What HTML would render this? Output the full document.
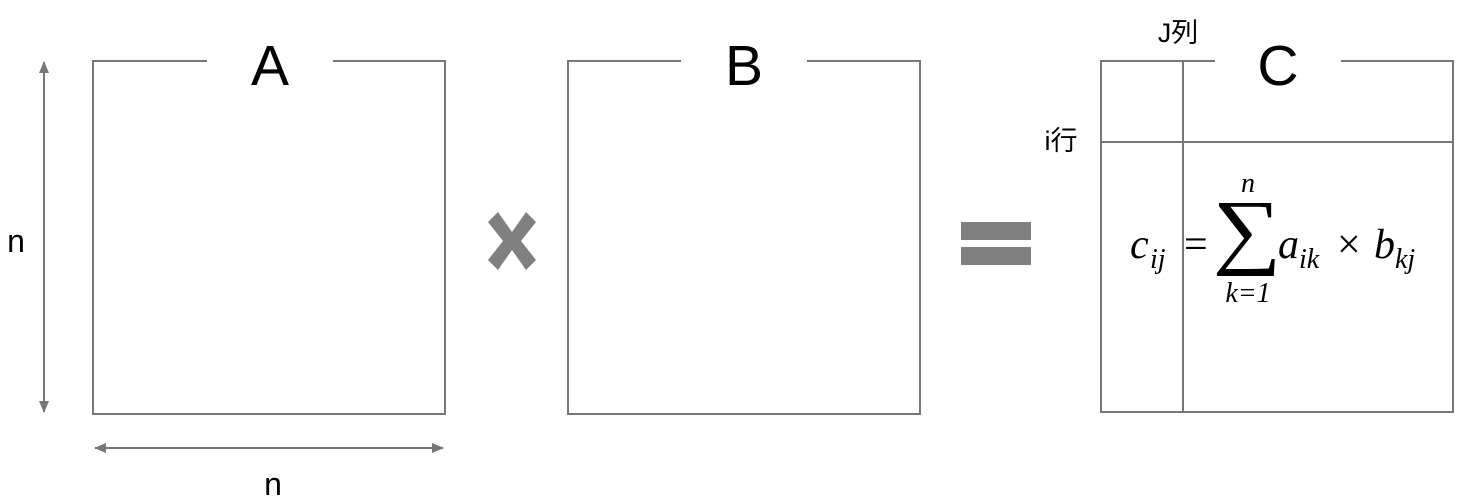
<!DOCTYPE html>
<html><head><meta charset="utf-8"><style>
html,body{margin:0;padding:0;background:#fff;}
svg{display:block;}
.t{font-family:"Liberation Sans","Noto Sans CJK JP",sans-serif;fill:#000;}
.m{font-family:"Liberation Serif","DejaVu Serif",serif;font-style:italic;fill:#000;}
.r{font-family:"Liberation Serif","DejaVu Serif",serif;fill:#000;}
</style></head><body>
<svg width="1470" height="503" viewBox="0 0 1470 503">
<defs>
<marker id="ah" markerWidth="12" markerHeight="10" refX="11" refY="5" orient="auto-start-reverse" markerUnits="userSpaceOnUse">
<path d="M0,0 L12,5 L0,10 Z" fill="#777"/>
</marker>
</defs>
<g stroke="#777" stroke-width="2" fill="none">
<path d="M207,61 H93 V414 H445 V61 H333"/>
<path d="M681,61 H568 V414 H920 V61 H807"/>
<path d="M1215,61 H1101 V412 H1453 V61 H1341"/>
<line x1="1183" y1="61" x2="1183" y2="412"/>
<line x1="1101" y1="142" x2="1453" y2="142"/>
<line x1="44" y1="62" x2="44" y2="412" marker-start="url(#ah)" marker-end="url(#ah)"/>
<line x1="95" y1="448" x2="443" y2="448" marker-start="url(#ah)" marker-end="url(#ah)"/>
</g>
<text class="t" x="270" y="85" font-size="57" text-anchor="middle">A</text>
<text class="t" x="744" y="85" font-size="57" text-anchor="middle">B</text>
<text class="t" x="1278" y="85" font-size="57" text-anchor="middle">C</text>
<text class="t" x="16" y="252" font-size="32" text-anchor="middle">n</text>
<text class="t" x="273" y="495" font-size="32" text-anchor="middle">n</text>
<text class="t" x="1178" y="42" font-size="27" text-anchor="middle">J列</text>
<text class="t" x="1061" y="150" font-size="27" text-anchor="middle">i行</text>
<g fill="#808080">
<polygon points="488,222 498,212 512,232 526,212 536,222 521,241 536,260 526,270 512,250 498,270 488,260 503,241"/>
</g>
<rect x="961" y="222" width="70" height="18" fill="#808080"/>
<rect x="961" y="247" width="70" height="18" fill="#808080"/>
<g>
<text class="m" x="1130" y="258" font-size="42">c</text>
<text class="m" x="1150" y="268" font-size="28">ij</text>
<text class="r" x="1184" y="258" font-size="42">=</text>
<text class="r" x="1247" y="258" font-size="84" font-weight="normal" text-anchor="middle" transform="translate(1247 0) scale(1.15 1) translate(-1247 0)">∑</text>
<text class="m" x="1248" y="192" font-size="28" text-anchor="middle">n</text>
<text class="m" x="1248" y="302" font-size="28" text-anchor="middle">k=1</text>
<text class="m" x="1278" y="258" font-size="42">a</text>
<text class="m" x="1299" y="268" font-size="28">ik</text>
<text class="r" x="1337" y="258" font-size="42">×</text>
<text class="m" x="1374" y="258" font-size="42">b</text>
<text class="m" x="1395" y="268" font-size="28">kj</text>
</g>
</svg>
</body></html>
